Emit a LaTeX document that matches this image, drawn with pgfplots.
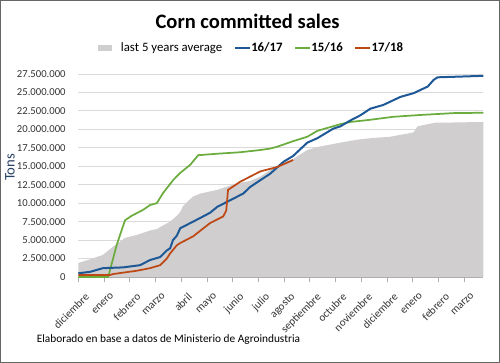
\documentclass[border=0pt]{standalone}
\usepackage{fontspec}
\setmainfont{Carlito}
\usepackage{pgfplots}
\pgfplotsset{compat=1.18}
\definecolor{areagray}{RGB}{208,206,207}
\definecolor{cblue}{RGB}{31,88,150}
\definecolor{cgreen}{RGB}{106,172,62}
\definecolor{corange}{RGB}{190,72,20}
\definecolor{gridgray}{RGB}{217,217,217}
\definecolor{labnavy}{RGB}{40,64,100}
\begin{document}
\begin{tikzpicture}
\useasboundingbox (-58.725pt,-64.5pt) rectangle (316.275pt,207.75pt);
\begin{axis}[
  scale only axis,
  width=303.75pt, height=152.25pt,
  xmin=0, xmax=15.74, ymin=0, ymax=27.5,
  axis x line*=bottom, axis y line*=left,
  y axis line style={draw=none},
  x axis line style={draw=gridgray!80!black, line width=0.6pt},
  xtick={0,...,15},
  xticklabels={diciembre,enero,febrero,marzo,abril,mayo,junio,julio,agosto,septiembre,octubre,noviembre,diciembre,enero,febrero,marzo},
  xticklabel style={rotate=45, anchor=north east, font=\fontsize{8.3}{9}\selectfont, text=black!80, xshift=1.5pt, yshift=-5pt},
  xtick style={draw=gridgray!80!black, line width=0.6pt},
  tick align=outside,
  major tick length=4pt,
  ytick={0,2.5,...,27.5},
  yticklabels={0,2.500.000,5.000.000,7.500.000,10.000.000,12.500.000,15.000.000,17.500.000,20.000.000,22.500.000,25.000.000,27.500.000},
  yticklabel style={font=\fontsize{8}{9}\selectfont, text=black!80, xshift=-2pt},
  ytick style={draw=none},
  ymajorgrids,
  grid style={draw=gridgray, line width=0.7pt},
  ylabel={Tons},
  ylabel style={at={(axis description cs:-0.169,0.54)}, anchor=center, font=\fontsize{11}{12}\selectfont, text=labnavy},
  title={Corn committed sales},
  title style={at={(axis description cs:0.418,1.2215)}, anchor=center, yshift=0pt, font=\fontsize{15.4}{17}\selectfont\bfseries},
  legend style={at={(axis description cs:0.4264,1.128)}, anchor=center, draw=none, fill=none, font=\fontsize{9.6}{10}\selectfont, nodes={inner sep=0.5pt}, /tikz/every even column/.append style={column sep=8pt}, /tikz/column 2/.append style={column sep=11.5pt}},
  legend columns=4,
  legend cell align=left,
  legend image code/.code={\draw[#1] (0pt,0pt) -- (11.25pt,0pt);},
  clip=false,
]
\addplot[fill=areagray, draw=none, forget plot] coordinates {
(0,1.9) (0.46,2.4) (0.96,3.0) (1.35,4.1) (1.82,5.3) (2.28,5.7) (2.79,6.3) (3.06,6.5) (3.30,7.0) (3.57,7.5) (3.83,8.3) (3.96,8.8) (4.07,9.6) (4.30,10.4) (4.46,10.9) (4.74,11.3) (5.40,11.8) (6.18,12.7) (6.68,13.0) (7.07,13.6) (7.5,14.6) (7.97,15.5) (8.35,16.0) (8.90,17.2) (9.29,17.6) (10.18,18.2) (10.84,18.6) (11.35,18.8) (12.12,19.0) (12.91,19.5) (13.03,19.6) (13.18,20.4) (13.30,20.5) (13.88,20.9) (14.07,20.9) (15.74,21.0)
} \closedcycle;
\addlegendimage{draw=none, legend image code/.code={\fill[areagray, draw=none] (0pt,-2.4pt) rectangle (10.5pt,2.4pt); \path[draw=none, fill=none] (0pt,0pt) -- (16.5pt,0pt);}}
\addlegendentry{last 5 years average}
\addplot[cgreen, line width=1.3pt, forget plot] coordinates {
(0,0) (1.16,0) (1.23,0.9) (1.49,4.3) (1.69,6.4) (1.82,7.7) (2.08,8.3) (2.52,9.1) (2.79,9.75) (3.05,10.0) (3.30,11.4) (3.68,13.1) (3.96,14.1) (4.35,15.2) (4.66,16.5) (5.40,16.7) (6.29,16.9) (7.07,17.2) (7.46,17.4) (7.73,17.65) (8.35,18.4) (8.90,19.0) (9.29,19.8) (10.18,20.7) (10.57,21.0) (11.35,21.3) (12.24,21.7) (13.3,21.95) (14.58,22.2) (15.74,22.25)
};
\addplot[cblue, line width=1.5pt] coordinates {
(0,0.5) (0.46,0.7) (0.96,1.2) (1.74,1.3) (2.40,1.6) (2.79,2.3) (3.18,2.7) (3.44,3.6) (3.57,3.9) (3.68,5.0) (3.83,5.6) (3.96,6.6) (4.35,7.3) (4.74,8.0) (5.12,8.7) (5.40,9.5) (5.79,10.2) (6.41,11.3) (6.68,12.2) (7.07,13.1) (7.46,14.0) (7.97,15.6) (8.35,16.4) (8.90,18.2) (9.29,18.8) (9.91,20.1) (10.18,20.4) (10.57,21.2) (10.96,21.9) (11.35,22.8) (11.85,23.3) (12.52,24.4) (13.03,24.9) (13.58,25.8) (13.81,26.7) (13.96,27.05) (14.85,27.15) (15.74,27.25)
};
\addlegendentry{\textbf{16/17}}
\addlegendimage{cgreen, line width=1.3pt}
\addlegendentry{\textbf{15/16}}
\addplot[corange, line width=1.3pt] coordinates {
(0,0.27) (1.23,0.27) (1.35,0.4) (2.28,0.85) (2.79,1.2) (3.18,1.6) (3.44,2.5) (3.57,3.2) (3.83,4.3) (3.96,4.6) (4.46,5.5) (5.12,7.3) (5.63,8.2) (5.75,9.0) (5.82,11.8) (6.29,12.9) (6.68,13.6) (7.07,14.3) (7.73,14.9) (8.35,15.85)
};
\addlegendentry{\textbf{17/18}}
\node[anchor=west, font=\fontsize{8.5}{9}\selectfont] at (axis description cs:-0.114,-0.31) {Elaborado en base a datos de Ministerio de Agroindustria};
\end{axis}
\draw[black!60, line width=0.75pt] (-58.35pt,-64.125pt) rectangle (315.9pt,207.375pt);
\end{tikzpicture}
\end{document}
